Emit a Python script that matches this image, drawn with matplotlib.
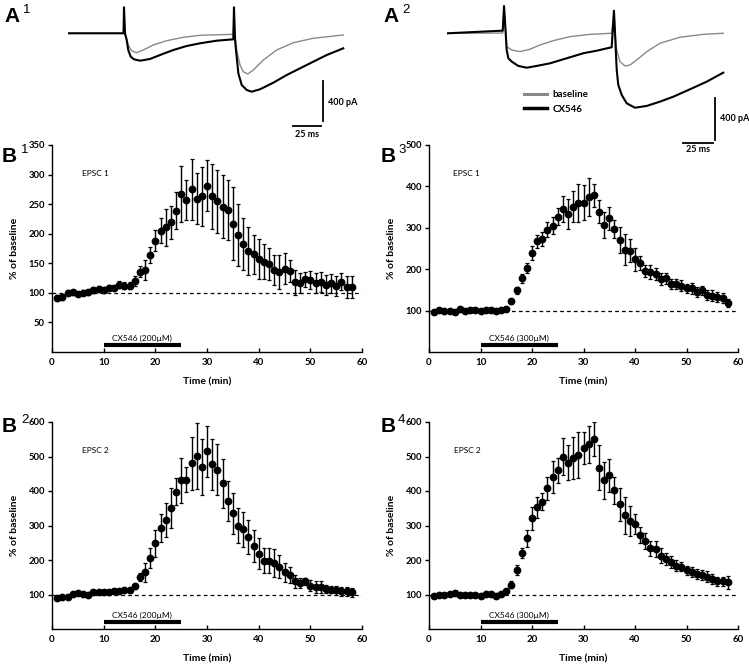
import numpy as np
import matplotlib
matplotlib.use("Agg")
import matplotlib.pyplot as plt
from matplotlib.transforms import blended_transform_factory

W, H = 749, 665
plt.rcParams['font.family'] = ['Lato', 'DejaVu Sans']

a1_black_t = [0, 48.7, 49.1, 50.0, 51.5, 52.9, 55.1, 58.0, 63.4, 72.3, 81.3, 93.1, 105.1, 117.0,
              131.9, 146.7, 147.3, 148.2, 149.1, 151.2, 154.2, 158.7, 163.1, 170.5, 182.4, 194.4,
              206.3, 218.1, 230.1, 244.9]
a1_black_i = [0, 0, 260, 0, -67, -167, -234, -260, -274, -257, -217, -167, -127, -100,
              -74, -60, 260, -60, -167, -400, -517, -567, -584, -560, -494, -417,
              -350, -284, -217, -150]
a1_gray_t = [0, 48.7, 49.1, 50.0, 51.5, 52.9, 55.8, 60.3, 66.3, 75.3, 87.2, 102, 117, 146.7,
             147.3, 148.2, 149.7, 152.7, 155.6, 159.6, 164.6, 173.5, 185.4, 200.3, 218.1, 244.9]
a1_gray_i = [0, 0, 240, 0, -60, -117, -174, -194, -167, -117, -74, -40, -20, -10,
             240, -10, -167, -317, -384, -407, -367, -267, -167, -94, -50, -17]

a2_black_t = [0, 45.6, 46.7, 48.1, 48.9, 50.3, 53.1, 58.6, 65.6, 73.9, 85, 98.9, 112.8, 123.9,
              136.4, 138.3, 139.8, 140.6, 141.9, 144.8, 148.9, 155.8, 165.6, 176.7, 187.8, 201.7,
              215.6, 229.4]
a2_black_i = [0, 25, 260, 0, -159, -238, -270, -311, -328, -311, -286, -238, -190, -166,
              -133, 215, -159, -350, -492, -588, -667, -709, -692, -651, -604, -533,
              -461, -375]
a2_gray_t = [0, 45.6, 46.7, 48.1, 48.9, 53.1, 60, 68.3, 76.7, 87.8, 101.7, 118.3, 136.4, 138.3,
             139.8, 140.6, 143.3, 147.5, 151.7, 157.3, 165.6, 176.7, 193.3, 212.8, 229.4]
a2_gray_i = [0, 2, 230, 0, -128, -159, -175, -152, -111, -70, -32, -10, 0, 200,
             -64, -159, -270, -311, -302, -254, -175, -95, -38, -10, 0]

# ---- time courses (% of baseline, mean and SEM) ----
minutes = np.arange(1, 59)

b1_mean = [91, 93, 100, 101, 98, 100, 101, 105, 107, 105,
           109, 109, 114, 112, 112, 120, 136, 138, 164, 188,
           205, 211, 219, 239, 267, 257, 275, 259, 263, 281,
           263, 255, 246, 240, 217, 198, 183, 171, 165, 157,
           153, 149, 139, 135, 141, 137, 118, 116, 123, 122,
           116, 118, 114, 116, 111, 119, 110, 110]
b1_sem = [5, 5, 4, 4, 4, 4, 4, 5, 5, 5, 5, 5, 6, 6, 6,
          8, 10, 17, 14, 18,
          21, 31, 28, 31, 48, 34, 52, 43, 50, 43,
          55, 53, 53, 51, 62, 52, 44, 41, 33, 34,
          30, 27, 25, 29, 26, 19, 21, 17, 13, 15,
          17, 17, 17, 16, 17, 14, 19, 18]

b3_mean = [97, 101, 99, 100, 96, 105, 98, 102, 101, 99,
           101, 101, 99, 102, 105, 122, 149, 178, 203, 239,
           267, 273, 295, 305, 327, 346, 334, 351, 361, 361,
           375, 379, 339, 307, 323, 297, 271, 247, 245, 224,
           215, 196, 193, 189, 176, 178, 164, 164, 160, 154,
           154, 146, 149, 138, 136, 133, 130, 118]
b3_sem = [4] * 15 + [7, 8, 11, 13, 17,
                     16, 18, 18, 20, 20, 32, 36, 37, 46, 42,
                     46, 28, 28, 32, 28, 22, 32, 37, 27, 28,
                     16, 15, 16, 15, 15, 14, 12, 12, 13, 11,
                     13, 12, 11, 12, 13, 12, 12, 10]

b2_mean = [91, 92, 92, 101, 104, 101, 99, 106, 107, 106,
           107, 111, 110, 112, 113, 124, 150, 164, 205, 248,
           292, 316, 350, 398, 431, 433, 480, 502, 470, 515,
           478, 462, 422, 371, 335, 299, 289, 266, 241, 218,
           198, 198, 191, 181, 164, 157, 138, 133, 138, 125,
           121, 121, 116, 114, 112, 109, 109, 107]
b2_sem = [5] * 15 + [7, 12, 27, 29, 39,
                     41, 48, 58, 39, 66, 37, 77, 96, 82, 74,
                     74, 75, 72, 59, 59, 51, 51, 50, 46, 45,
                     36, 36, 40, 34, 27, 24, 19, 15, 10, 16,
                     17, 17, 12, 11, 13, 14, 14, 13]

b4_mean = [95, 98, 100, 102, 104, 99, 98, 98, 98, 97,
           102, 102, 97, 101, 109, 128, 171, 220, 263, 321,
           353, 369, 408, 441, 460, 500, 482, 496, 504, 524,
           535, 551, 468, 431, 446, 402, 361, 330, 314, 304,
           272, 256, 234, 232, 213, 203, 195, 184, 181, 170,
           165, 160, 157, 152, 145, 138, 138, 136]
b4_sem = [4] * 15 + [10, 15, 14, 24, 33,
                     31, 24, 33, 46, 37, 54, 50, 60, 66, 46,
                     54, 50, 64, 53, 48, 39, 47, 54, 43, 29,
                     24, 23, 22, 23, 21, 17, 17, 15, 13, 13,
                     15, 14, 15, 15, 15, 14, 14, 19]

drug_on, drug_off = 10, 25

fig = plt.figure(figsize=(W / 100, H / 100), dpi=100)


def px_axes(l, t, r, b, **kw):
    return fig.add_axes([l / W, 1 - b / H, (r - l) / W, (b - t) / H], **kw)


def panel_label(x, y, letter, num, dx=19):
    fig.text(x / W, 1 - y / H, letter, fontsize=15, fontweight='bold',
             family='Liberation Sans', va='baseline')
    fig.text((x + dx) / W, 1 - (y - 9) / H, num, fontsize=9.5,
             family='Liberation Sans', va='baseline')


# ---- B panels ----
def time_course(box, mean, sem, ymax, ystep, epsc, conc, label_x):
    ax = px_axes(*box)
    ax.patch.set_visible(False)
    ax.errorbar(minutes, mean, yerr=sem, fmt='o', color='black', ms=4.6,
                elinewidth=1.0, capsize=1.3, capthick=0.9, zorder=3)
    ax.axhline(100, color='black', lw=0.9, ls=(0, (3, 2.5)), zorder=1)
    ax.set_xlim(0, 60)
    ax.set_ylim(0, ymax)
    ax.set_xticks(range(0, 61, 10))
    ax.set_yticks(range(ystep, ymax + 1, ystep))
    for s in ['top', 'right']:
        ax.spines[s].set_visible(False)
    for s in ['left', 'bottom']:
        ax.spines[s].set_linewidth(1.0)
    ax.tick_params(axis='y', direction='out', length=3, width=1, pad=2, labelsize=6.8)
    ax.tick_params(axis='x', direction='in', length=3, width=1, pad=4, labelsize=7)
    for lab in ax.get_xticklabels() + ax.get_yticklabels():
        lab.set_fontweight('bold')
    ax.set_xlabel('Time (min)', fontsize=7.5, fontweight='bold', labelpad=8)
    ax.set_ylabel('% of baseline', fontsize=7.5, fontweight='bold', labelpad=7)
    tr = blended_transform_factory(ax.transData, ax.transAxes)
    ax.plot([drug_on, drug_off], [0.032, 0.032], color='black', lw=3,
            solid_capstyle='butt', transform=tr)
    ax.text((drug_on + drug_off) / 2, 0.048, 'CX546 (%d\u00b5M)' % conc, fontsize=6,
            ha='center', va='bottom', transform=tr)
    ax.text(label_x, 0.86, epsc, fontsize=6, va='center', transform=tr)
    return ax


time_course((52, 145, 362, 352), b1_mean, b1_sem, 350, 50, 'EPSC 1', 200, 5.8)
time_course((429, 145, 738, 352), b3_mean, b3_sem, 500, 100, 'EPSC 1', 300, 4.6)
time_course((52, 422, 362, 629), b2_mean, b2_sem, 600, 100, 'EPSC 2', 200, 5.8)
time_course((429, 422, 738, 629), b4_mean, b4_sem, 600, 100, 'EPSC 2', 300, 4.9)

# ---- A1 ----
ax = px_axes(60, 0, 360, 140, zorder=5)
ax.set_xlim((60 - 69) / 1.12, (360 - 69) / 1.12)
ax.set_ylim(-1067, 333)
ax.axis('off')
ax.plot(a1_gray_t, a1_gray_i, color='#888888', lw=1.0)
ax.plot(a1_black_t, a1_black_i, color='black', lw=1.5)
ax.plot([226.8, 226.8], [-477, -877], color='black', lw=1.3)
ax.plot([200, 225], [-927, -927], color='black', lw=1.3)
ax.text(231, -690, '400 pA', fontsize=6.5, fontweight='bold', va='center')
ax.text(212.5, -1012, '25 ms', fontsize=6.5, fontweight='bold', va='center', ha='center')

# ---- A2 ----
ax = px_axes(440, 0, 749, 160, zorder=5)
ax.set_xlim((440 - 448) / 1.2, (749 - 448) / 1.2)
ax.set_ylim(-1207, 317)
ax.axis('off')
ax.plot(a2_gray_t, a2_gray_i, color='#888888', lw=1.0)
ax.plot(a2_black_t, a2_black_i, color='black', lw=1.5)
ax.plot([222.5, 222.5], [-617, -1017], color='black', lw=1.3)
ax.plot([195.8, 220.8], [-1045, -1045], color='black', lw=1.3)
ax.text(226.7, -810, '400 pA', fontsize=6.5, fontweight='bold', va='center')
ax.text(208.3, -1110, '25 ms', fontsize=6.5, fontweight='bold', va='center', ha='center')
h1, = ax.plot([], [], color='#888888', lw=2.2)
h2, = ax.plot([], [], color='black', lw=2.5)
ax.legend([h1, h2], ['baseline', 'CX546'], loc='upper left', bbox_to_anchor=(0.245, 0.49),
          frameon=False, handlelength=2.3, handletextpad=0.6, labelspacing=0.55,
          prop={'size': 7, 'weight': 'bold'})

panel_label(4, 22, 'A', '1')
panel_label(383, 22, 'A', '2')
panel_label(2, 162, 'B', '1')
panel_label(381, 162, 'B', '3', dx=17)
panel_label(2, 432, 'B', '2')
panel_label(381, 432, 'B', '4', dx=17)

fig.savefig('out.png', dpi=100)
